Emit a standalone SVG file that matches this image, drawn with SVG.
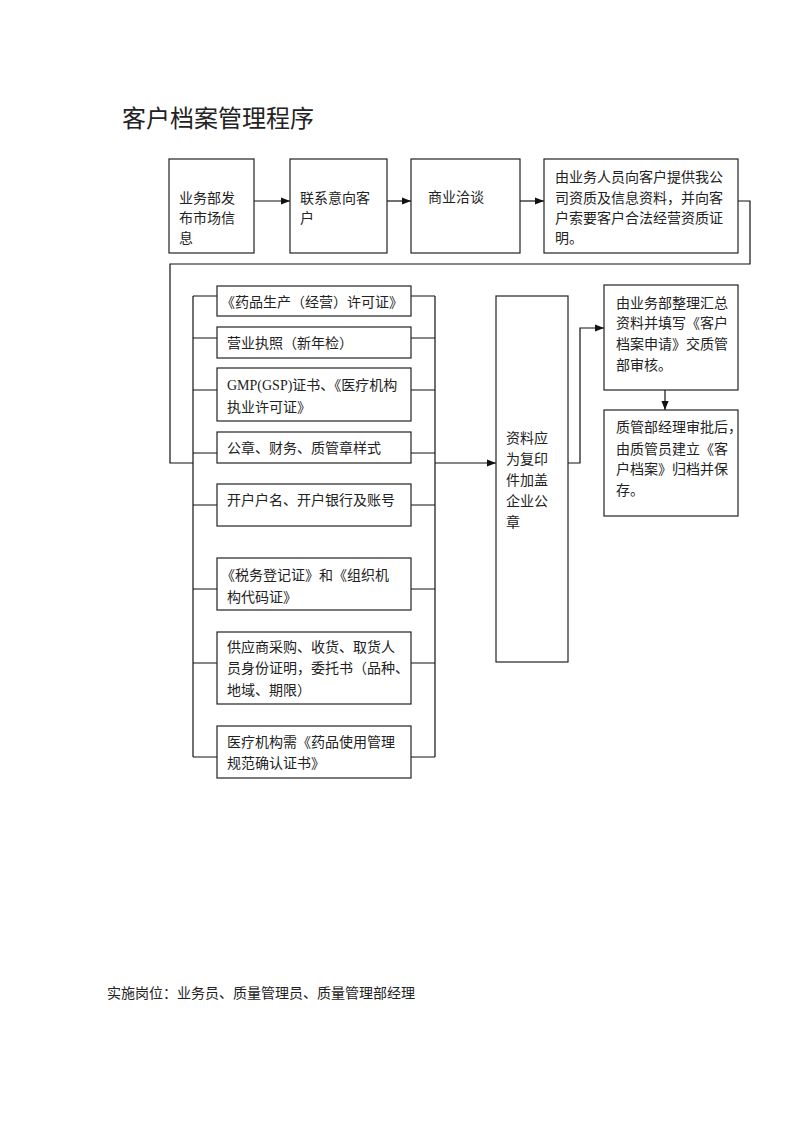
<svg xmlns="http://www.w3.org/2000/svg" width="800" height="1132" viewBox="0 0 800 1132">
<style>
  .box { fill: #fff; stroke: #222; stroke-width: 1.2; }
  .t { font-family: "Liberation Serif", "Noto Sans CJK SC", serif; font-size: 14px; fill: #222; }
  .title { font-family: "Liberation Serif", "Noto Sans CJK SC", serif; font-size: 24px; fill: #222; }
  .ln { fill: none; stroke: #111; stroke-width: 1.2; }
</style>
<defs>
  <marker id="arr" viewBox="0 0 10 10" refX="10" refY="5" markerWidth="9" markerHeight="9" markerUnits="userSpaceOnUse" orient="auto">
    <path d="M0,1 L10,5 L0,9 z" fill="#111"/>
  </marker>
</defs>
<rect width="800" height="1132" fill="#fff"/>
<text class="title" x="122" y="127">客户档案管理程序</text>

<g id="connectors">
  <line class="ln" x1="254" y1="201" x2="290" y2="201" marker-end="url(#arr)"/>
  <line class="ln" x1="387" y1="201" x2="411" y2="201" marker-end="url(#arr)"/>
  <line class="ln" x1="520" y1="201" x2="544" y2="201" marker-end="url(#arr)"/>
  <polyline class="ln" points="738,201 750,201 750,264 170,264 170,463 193,463"/>
  <line class="ln" x1="193" y1="296" x2="193" y2="757"/>
  <line class="ln" x1="435" y1="296" x2="435" y2="757"/>
  <path class="ln" d="M193,296H217 M193,338H217 M193,390H217 M193,453H217 M193,505H217 M193,589H217 M193,663H217 M193,757H217"/>
  <path class="ln" d="M411,296H435 M411,338H435 M411,390H435 M411,453H435 M411,505H435 M411,589H435 M411,663H435 M411,757H435"/>
  <line class="ln" x1="435" y1="463" x2="496" y2="463" marker-end="url(#arr)"/>
  <polyline class="ln" points="568,463 580,463 580,328 604,328" marker-end="url(#arr)"/>
  <line class="ln" x1="665" y1="390" x2="665" y2="410" marker-end="url(#arr)"/>
</g>

<g id="n1"><rect class="box" x="169" y="159" width="85" height="94"/>
  <text class="t" x="179" y="203">业务部发</text><text class="t" x="179" y="223">布市场信</text><text class="t" x="179" y="243">息</text></g>
<g id="n2"><rect class="box" x="290" y="159" width="97" height="94"/>
  <text class="t" x="300" y="203">联系意向客</text><text class="t" x="300" y="223">户</text></g>
<g id="n3"><rect class="box" x="411" y="159" width="109" height="94"/>
  <text class="t" x="428" y="202">商业洽谈</text></g>
<g id="n4"><rect class="box" x="544" y="159" width="194" height="94"/>
  <text class="t" x="555" y="182">由业务人员向客户提供我公</text>
  <text class="t" x="555" y="203">司资质及信息资料，并向客</text>
  <text class="t" x="555" y="223">户索要客户合法经营资质证</text>
  <text class="t" x="555" y="243">明。</text></g>

<g id="a1"><rect class="box" x="217" y="286" width="194" height="30"/>
  <text class="t" x="221" y="307">《药品生产（经营）许可证》</text></g>
<g id="a2"><rect class="box" x="217" y="327" width="194" height="31"/>
  <text class="t" x="227" y="348">营业执照（新年检）</text></g>
<g id="a3"><rect class="box" x="217" y="368" width="194" height="53"/>
  <text class="t" x="227" y="390">GMP(GSP)证书、《医疗机构</text>
  <text class="t" x="227" y="412">执业许可证》</text></g>
<g id="a4"><rect class="box" x="217" y="432" width="194" height="31"/>
  <text class="t" x="227" y="453">公章、财务、质管章样式</text></g>
<g id="a5"><rect class="box" x="217" y="484" width="194" height="42"/>
  <text class="t" x="227" y="505">开户户名、开户银行及账号</text></g>
<g id="a6"><rect class="box" x="217" y="558" width="194" height="52"/>
  <text class="t" x="221" y="580">《税务登记证》和《组织机</text>
  <text class="t" x="227" y="602">构代码证》</text></g>
<g id="a7"><rect class="box" x="217" y="632" width="194" height="72"/>
  <text class="t" x="227" y="652">供应商采购、收货、取货人</text>
  <text class="t" x="227" y="673">员身份证明，委托书（品种、</text>
  <text class="t" x="227" y="695">地域、期限）</text></g>
<g id="a8"><rect class="box" x="217" y="726" width="194" height="52"/>
  <text class="t" x="227" y="747">医疗机构需《药品使用管理</text>
  <text class="t" x="227" y="768">规范确认证书》</text></g>

<g id="n5"><rect class="box" x="496" y="296" width="72" height="366"/>
  <text class="t" x="506" y="443">资料应</text>
  <text class="t" x="506" y="464">为复印</text>
  <text class="t" x="506" y="485">件加盖</text>
  <text class="t" x="506" y="506">企业公</text>
  <text class="t" x="506" y="527">章</text></g>
<g id="n6"><rect class="box" x="604" y="285" width="134" height="105"/>
  <text class="t" x="616" y="308">由业务部整理汇总</text>
  <text class="t" x="616" y="328">资料并填写《客户</text>
  <text class="t" x="616" y="349">档案申请》交质管</text>
  <text class="t" x="616" y="370">部审核。</text></g>
<g id="n7"><rect class="box" x="604" y="410" width="134" height="106"/>
  <text class="t" x="616" y="432">质管部经理审批后，</text>
  <text class="t" x="616" y="454">由质管员建立《客</text>
  <text class="t" x="616" y="474">户档案》归档并保</text>
  <text class="t" x="616" y="495">存。</text></g>

<text class="t" x="107" y="998">实施岗位：业务员、质量管理员、质量管理部经理</text>
</svg>
